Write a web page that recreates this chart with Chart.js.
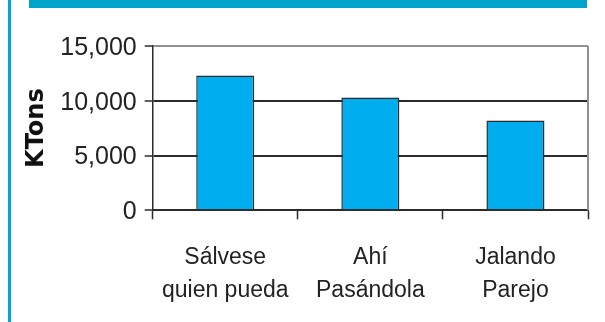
<!DOCTYPE html>
<html>
<head>
<meta charset="utf-8">
<script src="https://cdn.jsdelivr.net/npm/chart.js@4"></script>
<style>
  html, body { margin: 0; padding: 0; background: #fff; }
  #wrap { position: relative; width: 605px; height: 322px; overflow: hidden; }
  #banda { position: absolute; left: 29px; top: 0; width: 558px; height: 8px; background: #00a3c9; }
  #filete { position: absolute; left: 8px; top: 0; width: 2.5px; height: 322px; background: #00a9d4; }
  canvas { position: absolute; left: 0; top: 0; }
</style>
</head>
<body>
<div id="wrap">
  <div id="banda"></div>
  <div id="filete"></div>
  <canvas id="chartKtons" width="605" height="322"></canvas>
</div>
<script>
var categorias = [['Sálvese', 'quien pueda'], ['Ahí', 'Pasándola'], ['Jalando', 'Parejo']];
var valores = [12300, 10300, 8200];
var ticksY = [0, 5000, 10000, 15000];

var fuente = "'Liberation Sans', sans-serif";
var oscuro = '#2b2b2b';
var gris = '#8c9196';

// borde derecho del área de trazado
var bordeDerecho = {
    id: 'bordeDerecho',
    beforeDatasetsDraw: function (chart) {
        var a = chart.chartArea;
        var ctx = chart.ctx;
        ctx.save();
        ctx.strokeStyle = gris;
        ctx.lineWidth = 2;
        ctx.beginPath();
        ctx.moveTo(a.right, a.top);
        ctx.lineTo(a.right, a.bottom);
        ctx.stroke();
        ctx.restore();
    }
};

function formatoMiles(v) {
    return v.toString().replace(/\B(?=(\d{3})+(?!\d))/g, ',');
}

new Chart(document.getElementById('chartKtons'), {
    type: 'bar',
    data: {
        labels: categorias,
        datasets: [{
            data: valores,
            backgroundColor: '#00aeef',
            borderColor: oscuro,
            borderWidth: 1.5,
            barPercentage: 0.4,
            categoryPercentage: 1
        }]
    },
    options: {
        responsive: false,
        animation: false,
        layout: { padding: { top: 46, right: 17, left: 0, bottom: 0 } },
        plugins: { legend: { display: false }, tooltip: { enabled: false } },
        scales: {
            x: {
                grid: {
                    offset: true,
                    drawOnChartArea: false,
                    drawTicks: true,
                    tickLength: 9,
                    tickColor: oscuro,
                    tickWidth: 1.5
                },
                border: { color: oscuro, width: 2 },
                ticks: {
                    color: '#222',
                    padding: 22,
                    maxRotation: 0,
                    font: { family: fuente, size: 23, lineHeight: 33 / 23 }
                },
                afterFit: function (s) { s.height = 111.7; }
            },
            y: {
                min: 0,
                max: 15000,
                afterBuildTicks: function (s) {
                    s.ticks = ticksY.map(function (v) { return { value: v }; });
                },
                grid: {
                    color: function (c) { return c.tick && c.tick.value === 15000 ? gris : oscuro; },
                    lineWidth: 2,
                    tickLength: 8,
                    tickColor: oscuro,
                    tickWidth: 1.5
                },
                border: { color: oscuro, width: 1.5 },
                ticks: {
                    color: '#222',
                    padding: 8,
                    labelOffset: 2,
                    callback: function (v) { return formatoMiles(v); },
                    font: { family: fuente, size: 25 }
                },
                title: {
                    display: true,
                    text: 'KTons',
                    color: '#111',
                    padding: { top: 22, bottom: 0 },
                    font: { family: "'DejaVu Sans', sans-serif", size: 24, weight: 'bold', lineHeight: 1.2 }
                },
                afterFit: function (s) { s.width = 152.7; }
            }
        }
    },
    plugins: [bordeDerecho]
});
</script>
</body>
</html>
